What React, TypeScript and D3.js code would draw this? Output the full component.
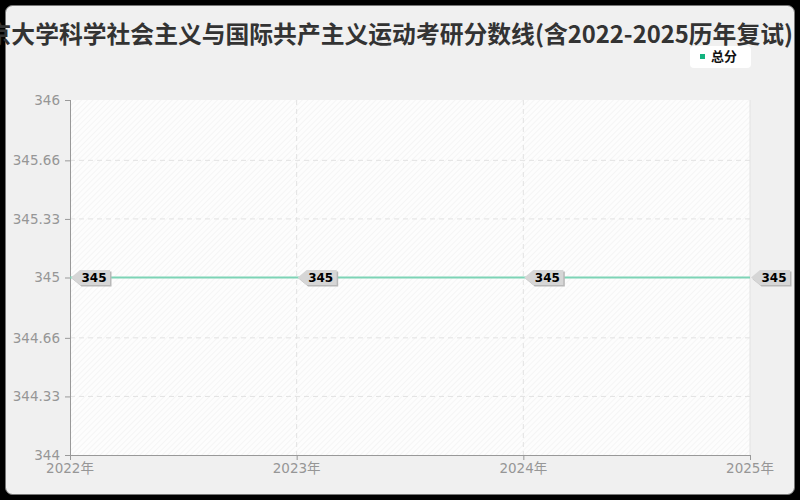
import React, { useEffect } from 'react';
import * as d3 from 'd3';

const title = '北京大学科学社会主义与国际共产主义运动考研分数线(含2022-2025历年复试)';
const years = ['2022年', '2023年', '2024年', '2025年'];
const totalScores = [345, 345, 345, 345];
const yTicks = [344, 344.33, 344.66, 345, 345.33, 345.66, 346];
const seriesName = '总分';

const W = 800;
const H = 500;
const margin = { top: 100, right: 50, bottom: 45, left: 70 };

export default function App() {
  useEffect(() => {
    document.body.style.margin = '0';
  }, []);

  const x = d3.scalePoint<string>()
    .domain(years)
    .range([margin.left, W - margin.right]);
  const y = d3.scaleLinear()
    .domain([344, 346])
    .range([H - margin.bottom, margin.top]);

  const line = d3.line<number>()
    .x((_, i) => x(years[i]) || 0)
    .y(d => y(d));

  const font = 'DejaVu Sans, "Noto Sans CJK SC", sans-serif';

  return (
    <svg width={W} height={H} style={{ display: 'block', fontFamily: font }}>
      <defs>
        <pattern id="hatch" patternUnits="userSpaceOnUse" width="4" height="4" patternTransform="rotate(45)">
          <rect width="4" height="4" fill="#fdfdfd" />
          <line x1="0" y1="0" x2="0" y2="4" stroke="#eeeeee" strokeWidth="1" />
        </pattern>
      </defs>
      <rect width={W} height={H} fill="#000" />
      <rect x={5.5} y={5.5} width={789} height={489} rx={7} fill="#f0f0f0" stroke="#777" strokeWidth={1} />

      {/* title */}
      <text x={793} y={43} textAnchor="end" fontSize={23.8} fontWeight="bold" fill="#333"
        fontFamily='"Noto Sans CJK SC", sans-serif'>{title}</text>

      {/* legend */}
      <rect x={690} y={46} width={61} height={22} rx={4} fill="#fff" />
      <rect x={700} y={54} width={5} height={5} fill="#13b37f" />
      <text x={711} y={61} fontSize={13} fontWeight="bold" fill="#111"
        fontFamily='"Noto Sans CJK SC", sans-serif'>{seriesName}</text>

      {/* plot background */}
      <rect x={margin.left} y={margin.top} width={W - margin.left - margin.right}
        height={H - margin.top - margin.bottom} fill="url(#hatch)" />

      {/* grid */}
      {yTicks.slice(1, -1).map(t => (
        <line key={'gy' + t} x1={margin.left} x2={W - margin.right} y1={y(t)} y2={y(t)}
          stroke="#e2e2e2" strokeDasharray="5,4" />
      ))}
      {years.slice(1, -1).map(yr => (
        <line key={'gx' + yr} x1={x(yr)} x2={x(yr)} y1={margin.top} y2={H - margin.bottom}
          stroke="#e2e2e2" strokeDasharray="5,4" />
      ))}
      <line x1={W - margin.right} x2={W - margin.right} y1={margin.top} y2={H - margin.bottom} stroke="#e2e2e2" />

      {/* axes */}
      <line x1={margin.left + 0.5} x2={margin.left + 0.5} y1={margin.top} y2={H - margin.bottom} stroke="#999" />
      <line x1={margin.left} x2={W - margin.right} y1={H - margin.bottom + 0.5} y2={H - margin.bottom + 0.5} stroke="#999" />
      {yTicks.map(t => (
        <g key={'ty' + t}>
          <line x1={margin.left - 5} x2={margin.left} y1={y(t) + 0.5} y2={y(t) + 0.5} stroke="#999" />
          <text x={margin.left - 10} y={y(t)} dy="0.35em" textAnchor="end" fontSize={13.5} fill="#969696">{t}</text>
        </g>
      ))}
      {years.map(yr => (
        <g key={'tx' + yr}>
          <line x1={(x(yr) || 0) + 0.5} x2={(x(yr) || 0) + 0.5} y1={H - margin.bottom} y2={H - margin.bottom + 5} stroke="#999" />
          <text x={x(yr)} y={H - margin.bottom + 18} textAnchor="middle" fontSize={13.5} fill="#969696">{yr}</text>
        </g>
      ))}

      {/* series */}
      <path d={line(totalScores) || ''} fill="none" stroke="#7dd4b6" strokeWidth={2} />

      {/* value tags */}
      {totalScores.map((v, i) => {
        const px = x(years[i]) || 0;
        const py = y(v);
        const tip = px + 1;
        const bx = px + 10;
        const bw = 30;
        const h = 15;
        const d = `M${tip},${py} L${bx},${py - h / 2} L${bx + bw},${py - h / 2} L${bx + bw},${py + h / 2} L${bx},${py + h / 2} Z`;
        return (
          <g key={'lab' + i}>
            <path d={d} transform="translate(1.5,1.5)" fill="#b8b8b8" />
            <path d={d} fill="#d6d6d6" />
            <text x={bx + bw / 2 - 1} y={py} dy="0.36em" textAnchor="middle" fontSize={12} fontWeight="bold" fill="#000">{v}</text>
          </g>
        );
      })}
    </svg>
  );
}
